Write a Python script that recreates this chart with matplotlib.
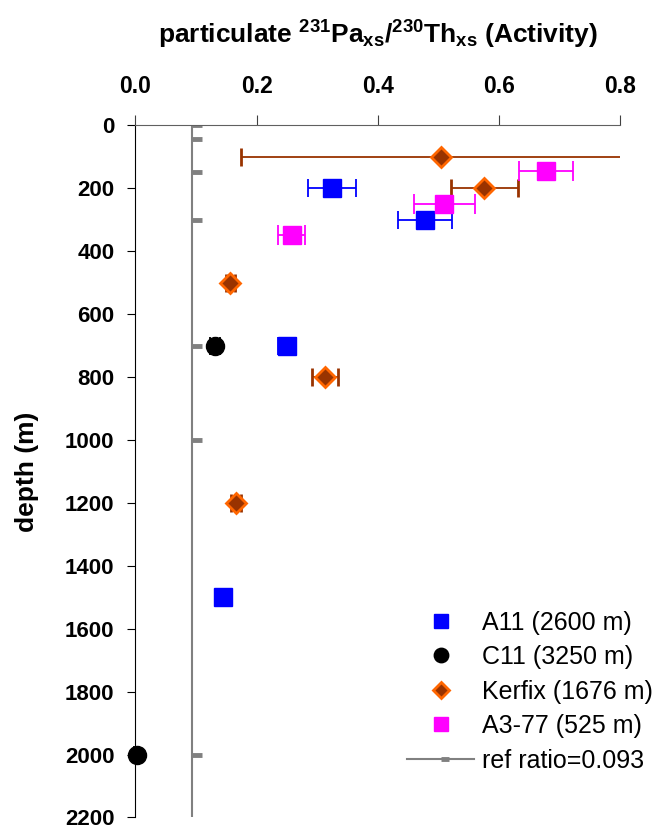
import matplotlib.pyplot as plt
import numpy as np
from matplotlib.path import Path

plt.rcParams['font.family'] = ['Liberation Sans', 'DejaVu Sans']
plt.rcParams['mathtext.fontset'] = 'custom'
plt.rcParams['mathtext.rm'] = 'Liberation Sans:bold'
plt.rcParams['mathtext.bf'] = 'Liberation Sans:bold'
plt.rcParams['mathtext.it'] = 'Liberation Sans:bold'

# A11 (2600 m)
a11_depth = [200, 300, 700, 1500]
a11_ratio = [0.325, 0.478, 0.250, 0.144]
a11_err = [0.04, 0.044, 0.015, 0.006]

# C11 (3250 m)
c11_depth = [700, 2000]
c11_ratio = [0.132, 0.002]
c11_err = [0.008, 0.004]

# Kerfix (1676 m)
kerfix_depth = [100, 200, 500, 800, 1200]
kerfix_ratio = [0.504, 0.576, 0.157, 0.313, 0.166]
kerfix_err = [0.33, 0.055, 0.008, 0.022, 0.008]

# A3-77 (525 m)
a377_depth = [145, 250, 350]
a377_ratio = [0.678, 0.510, 0.258]
a377_err = [0.044, 0.05, 0.022]

# reference ratio line
ref_value = 0.093
ref_depth = [0, 45, 150, 300, 700, 1000, 2000, 2500]

fig = plt.figure(figsize=(6.69, 8.32), dpi=100)
ax = fig.add_axes([0.2023, 0.0175, 0.7245, 0.8319])

# marqueur du ref : petit trait vers la droite
dash = Path([(0, 0), (1, 0)], [Path.MOVETO, Path.LINETO])
ref_line, = ax.plot([ref_value] * len(ref_depth), ref_depth, color='#808080', lw=1.5,
                    marker=dash, ms=14, mew=3.5, label='ref ratio=0.093', zorder=2)

a11 = ax.errorbar(a11_ratio, a11_depth, xerr=a11_err, fmt='s', color='#0000FF',
                  ms=13, ecolor='#0000FF', elinewidth=1.3, capsize=6.5, capthick=1.3,
                  zorder=4)
c11 = ax.errorbar(c11_ratio, c11_depth, xerr=c11_err, fmt='o', color='black',
                  ms=13, ecolor='black', elinewidth=1.3, capsize=6.5, capthick=1.3,
                  zorder=4, clip_on=False)
ker = ax.errorbar(kerfix_ratio, kerfix_depth, xerr=kerfix_err, fmt='D', mfc='#993300',
                  mec='#FF6600', mew=2, ms=10, ecolor='#993300', elinewidth=1.3,
                  capsize=6.5, capthick=1.3, zorder=4)
a377 = ax.errorbar(a377_ratio, a377_depth, xerr=a377_err, fmt='s', color='#FF00FF',
                   ms=13, ecolor='#FF00FF', elinewidth=1.3, capsize=7.5, capthick=1.3,
                   zorder=4)

ax.set_xlim(0, 0.8)
ax.set_ylim(2200, 0)
ax.set_xticks(np.arange(0, 0.81, 0.2))
ax.set_xticklabels(['%.1f' % v for v in np.arange(0, 0.81, 0.2)])
ax.set_yticks(np.arange(0, 2201, 200))

ax.xaxis.tick_top()
ax.xaxis.set_label_position('top')
ax.spines['bottom'].set_visible(False)
ax.spines['right'].set_visible(False)
ax.spines['top'].set_color('#606060')
ax.spines['left'].set_color('black')
ax.tick_params(axis='x', direction='out', length=7, pad=13, labelsize=16.5,
               color='#404040')
ax.tick_params(axis='y', direction='out', length=6, pad=9, labelsize=16)
for lab in ax.get_xticklabels() + ax.get_yticklabels():
    lab.set_fontweight('bold')

ax.set_xlabel(r'particulate $\mathbf{^{231}Pa_{xs}/^{230}Th_{xs}}$ (Activity)',
              fontsize=19, fontweight='bold', labelpad=22)
ax.set_ylabel('depth (m)', fontsize=19, fontweight='bold', labelpad=19)

handles = [a11[0], c11[0], ker[0], a377[0], ref_line]
labels = ['A11 (2600 m)', 'C11 (3250 m)', 'Kerfix (1676 m)', 'A3-77 (525 m)',
          'ref ratio=0.093']
ax.legend(handles, labels, loc='upper left', bbox_to_anchor=(0.608, 0.266),
          bbox_transform=fig.transFigure, frameon=False, fontsize=18,
          handlelength=2.7, handletextpad=0.32, labelspacing=0.42,
          borderpad=0, borderaxespad=0, markerscale=0.8)

fig.savefig('out.png', dpi=100)
